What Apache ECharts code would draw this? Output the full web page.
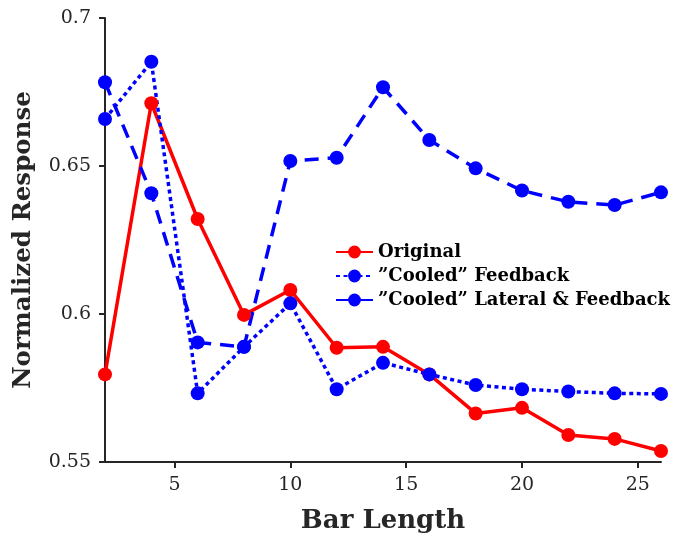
<!DOCTYPE html>
<html>
<head>
<meta charset="utf-8">
<script src="https://cdn.jsdelivr.net/npm/echarts@6/dist/echarts.min.js"></script>
<style>
  html, body { margin: 0; padding: 0; background: #ffffff; }
  #chart { width: 677px; height: 542px; }
</style>
</head>
<body>
<div id="chart"></div>
<script>
// Bar lengths tested
const barLengths = [2, 4, 6, 8, 10, 12, 14, 16, 18, 20, 22, 24, 26];

// Normalized responses per model variant
const original = [0.5796, 0.6712, 0.6321, 0.5997, 0.6081, 0.5886, 0.5889, 0.5796, 0.5664, 0.5683, 0.5591, 0.5578, 0.5537];
const cooledFeedback = [0.6659, 0.6852, 0.5732, 0.5889, 0.6036, 0.5746, 0.5835, 0.5796, 0.5760, 0.5746, 0.5738, 0.5732, 0.5730];
const cooledLateralFeedback = [0.6783, 0.6408, 0.5904, 0.5889, 0.6517, 0.6528, 0.6766, 0.6588, 0.6492, 0.6417, 0.6379, 0.6368, 0.6411];

// Tick positions
const xTicks = [5, 10, 15, 20, 25];
const yTicks = [0.55, 0.6, 0.65, 0.7];

const seriesNames = ['Original', '\u201DCooled\u201D Feedback', '\u201DCooled\u201D Lateral & Feedback'];

const pair = (ys) => barLengths.map((x, i) => [x, ys[i]]);

const axisColor = '#262626';
const serif = '"DejaVu Serif", serif';

function lineSeries(name, ys, color, dash) {
  return {
    name: name,
    type: 'line',
    data: pair(ys),
    symbol: 'circle',
    symbolSize: 14,
    showSymbol: true,
    animation: false,
    itemStyle: { color: color },
    lineStyle: { color: color, width: 3.5, type: dash },
    z: 2
  };
}

const chart = echarts.init(document.getElementById('chart'), null, { renderer: 'canvas' });

chart.setOption({
  backgroundColor: '#ffffff',
  animation: false,
  grid: { left: 105, right: 16, top: 18, bottom: 80, containLabel: false },
  legend: {
    left: 330,
    top: 238,
    orient: 'vertical',
    padding: 5,
    itemWidth: 37,
    itemHeight: 16,
    itemGap: 6,
    textStyle: { fontFamily: serif, fontWeight: 'bold', fontSize: 18, lineHeight: 18, color: '#000000' },
    data: seriesNames
  },
  xAxis: {
    type: 'value',
    min: 2,
    max: 26,
    name: 'Bar Length',
    nameLocation: 'middle',
    nameGap: 46,
    nameTextStyle: { fontFamily: serif, fontWeight: 'bold', fontSize: 26, color: axisColor },
    axisLine: { show: true, lineStyle: { color: axisColor, width: 2 } },
    axisTick: { show: true, length: 6, lineStyle: { color: axisColor, width: 2 }, customValues: xTicks },
    axisLabel: { fontFamily: serif, fontSize: 19, color: axisColor, margin: 14, customValues: xTicks },
    splitLine: { show: false }
  },
  yAxis: {
    type: 'value',
    min: 0.55,
    max: 0.7,
    name: 'Normalized Response',
    nameLocation: 'middle',
    nameGap: 69,
    nameTextStyle: { fontFamily: serif, fontWeight: 'bold', fontSize: 24.5, color: axisColor },
    axisLine: { show: true, lineStyle: { color: axisColor, width: 2 } },
    axisTick: { show: true, length: 6, lineStyle: { color: axisColor, width: 2 }, customValues: yTicks },
    axisLabel: {
      fontFamily: serif, fontSize: 19, color: axisColor, margin: 14, customValues: yTicks,
      formatter: (v) => String(parseFloat(v.toFixed(2)))
    },
    splitLine: { show: false }
  },
  series: [
    lineSeries(seriesNames[0], original, '#ff0000', 'solid'),
    lineSeries(seriesNames[1], cooledFeedback, '#0000ff', [4, 3.5]),
    lineSeries(seriesNames[2], cooledLateralFeedback, '#0000ff', [14, 9])
  ]
});
</script>
</body>
</html>
